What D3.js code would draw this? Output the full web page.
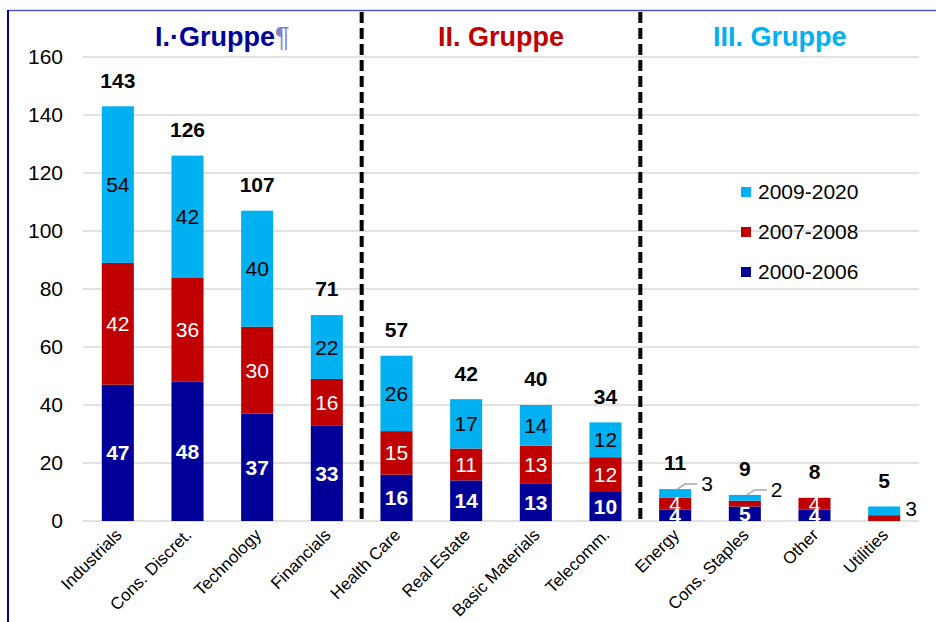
<!DOCTYPE html>
<html><head><meta charset="utf-8">
<script src="https://cdn.jsdelivr.net/npm/d3@7"></script>
<style>body{margin:0;background:#fff}svg{display:block;font-family:"Liberation Sans",Arial,sans-serif}</style>
</head><body><svg id="c" width="936" height="622"></svg>
<script>
const categories = ["Industrials","Cons. Discret.","Technology","Financials","Health Care","Real Estate","Basic Materials","Telecomm.","Energy","Cons. Staples","Other","Utilities"];
const s2000_2006 = [47,48,37,33,16,14,13,10,4,5,4,0];
const s2007_2008 = [42,36,30,16,15,11,13,12,4,2,4,2];
const s2009_2020 = [54,42,40,22,26,17,14,12,3,2,0,3];
const totals = [143,126,107,71,57,42,40,34,11,9,8,5];
const seriesNames = ["2000-2006","2007-2008","2009-2020"];
const yTicks = [0,20,40,60,80,100,120,140,160];
const groupTitles = ["I.·Gruppe","II. Gruppe","III. Gruppe"];
const groupSizes = [4,4,4];

const colors = ["#000099","#C00000","#00B0F0"];
const svg = d3.select("#c");
const x = d3.scaleBand().domain(categories).range([83,919]).paddingInner(0.54).paddingOuter(0.27);
const y = d3.scaleLinear().domain([0,160]).range([521,57]);

// frame
svg.append("line").attr("x1",8).attr("x2",936).attr("y1",10.5).attr("y2",10.5).attr("stroke","#5555cc").attr("stroke-width",1.5);
svg.append("line").attr("x1",8).attr("x2",8).attr("y1",10).attr("y2",622).attr("stroke","#0000aa").attr("stroke-width",2);

// grid
svg.append("g").selectAll("line").data(yTicks).join("line")
  .attr("x1",83).attr("x2",919).attr("y1",d=>y(d)).attr("y2",d=>y(d))
  .attr("stroke","#d9d9d9").attr("stroke-width",1.5);
svg.append("g").selectAll("text").data(yTicks).join("text")
  .attr("x",63).attr("y",d=>y(d)).attr("dy","0.35em").attr("text-anchor","end")
  .attr("font-size",21).attr("fill","#000").text(d=>d);

// stacked data
const rows = categories.map((c,i)=>({cat:c, a:s2000_2006[i], b:s2007_2008[i], c2:s2009_2020[i], total:totals[i], i}));
const stack = d3.stack().keys(["a","b","c2"])(rows);
const bw = x.bandwidth();
stack.forEach((layer,k)=>{
  svg.append("g").selectAll("rect").data(layer).join("rect")
    .attr("x",d=>x(d.data.cat)).attr("width",bw)
    .attr("y",d=>y(d[1])).attr("height",d=>y(d[0])-y(d[1]))
    .attr("fill",colors[k]);
});

// segment labels
stack.forEach((layer,k)=>{
  layer.forEach(d=>{
    const v = d[1]-d[0];
    if(v<=0) return;
    const cx = x(d.data.cat)+bw/2;
    const small = d.data.total < 15;
    if(k===2 && small){
      const top = y(d[1]);
      if(d.data.total>5){
        const ly = top-5;
        svg.append("polyline").attr("points",`${cx+2},${top} ${cx+10},${ly} ${cx+bw/2+6},${ly}`)
          .attr("fill","none").attr("stroke","#a6a6a6").attr("stroke-width",1.5);
        svg.append("text").attr("x",cx+bw/2+10).attr("y",ly).attr("dy","0.35em")
          .attr("font-size",21).attr("fill","#000").text(v);
      } else {
        svg.append("text").attr("x",x(d.data.cat)+bw+5).attr("y",(y(d[1])+y(d[0]))/2-2).attr("dy","0.35em")
          .attr("font-size",21).attr("fill","#000").text(v);
      }
      return;
    }
    if(k===1 && small && v<3) return;
    svg.append("text").attr("x",cx).attr("y",(y(d[1])+y(d[0]))/2).attr("dy","0.36em")
      .attr("text-anchor","middle").attr("font-size",21)
      .attr("font-weight",k===0?"bold":"normal")
      .attr("fill",k===2?"#000":"#fff").text(v);
  });
});

// totals
svg.append("g").selectAll("text").data(rows).join("text")
  .attr("x",d=>x(d.cat)+bw/2).attr("y",d=>y(d.total)-26).attr("dy","0.35em")
  .attr("text-anchor","middle").attr("font-size",21).attr("font-weight","bold").text(d=>d.total);

// x labels
svg.append("g").selectAll("text").data(categories).join("text")
  .attr("transform",d=>`translate(${x(d)+bw/2+5},${536}) rotate(-45)`)
  .attr("text-anchor","end").attr("font-size",17).attr("fill","#000").text(d=>d);

// separators
let idx=0; const bounds=[];
groupSizes.forEach(n=>{ bounds.push([idx, idx+n-1]); idx+=n; });
bounds.slice(0,-1).forEach(b=>{
  const xs = (x(categories[b[1]])+bw + x(categories[b[1]+1]))/2;
  svg.append("line").attr("x1",xs).attr("x2",xs).attr("y1",12).attr("y2",521)
    .attr("stroke","#000").attr("stroke-width",4).attr("stroke-dasharray","11,5");
});

// group titles
bounds.forEach((b,g)=>{
  const x0 = x(categories[b[0]]), x1 = x(categories[b[1]])+bw;
  const t = svg.append("text").attr("x",(x0+x1)/2).attr("y",37).attr("dy","0.35em")
    .attr("text-anchor","middle").attr("font-size",27).attr("font-weight","bold").attr("fill",colors[g]);
  t.append("tspan").text(groupTitles[g]);
  if(g===0) t.append("tspan").attr("font-weight","normal").attr("fill","#8080cc").text("¶");
});

// legend
const leg = svg.append("g");
[2,1,0].forEach((k,j)=>{
  const ly = 192 + j*40;
  leg.append("rect").attr("x",741).attr("y",ly-5).attr("width",10).attr("height",10).attr("fill",colors[k]);
  leg.append("text").attr("x",758).attr("y",ly).attr("dy","0.35em").attr("font-size",21).text(seriesNames[k]);
});
</script></body></html>
